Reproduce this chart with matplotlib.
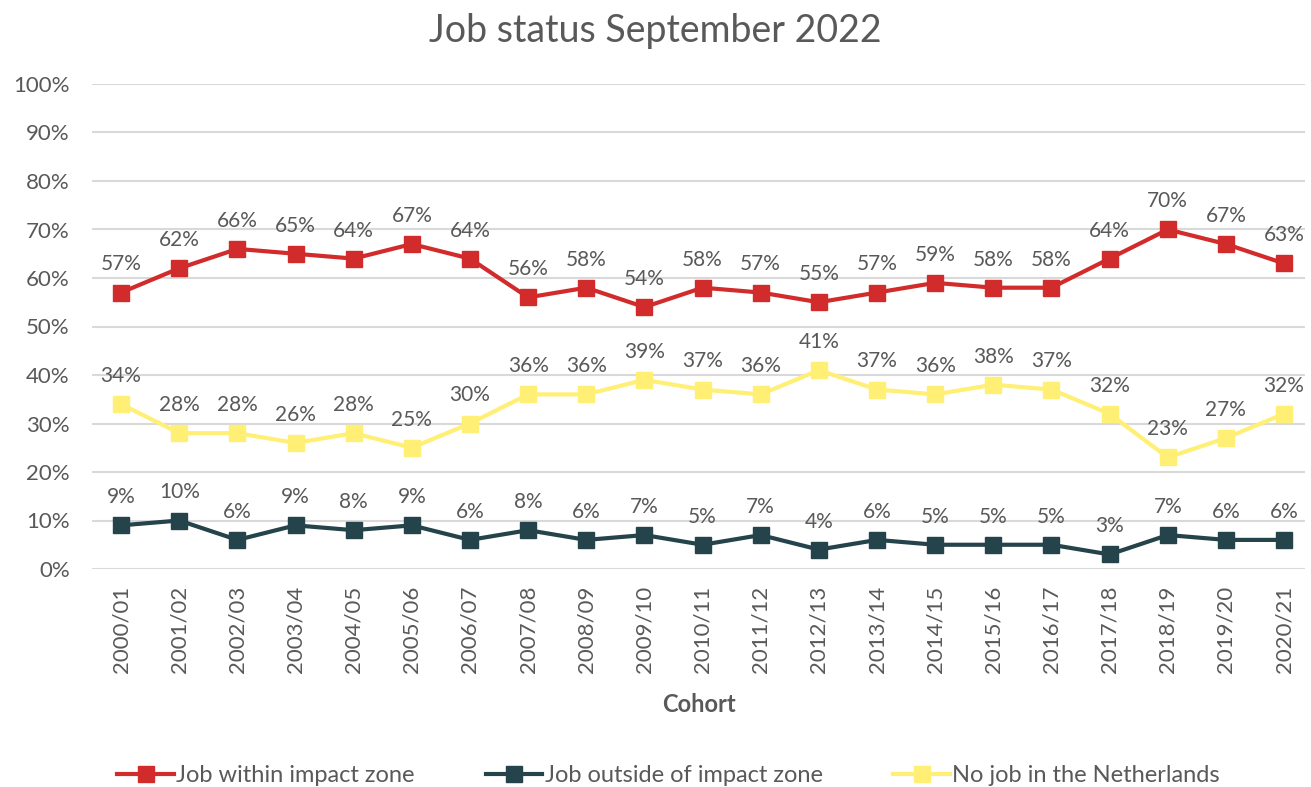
import matplotlib.pyplot as plt
from matplotlib.ticker import FuncFormatter

plt.rcParams["font.family"] = ["Lato", "DejaVu Sans"]

cohorts = ["2000/01", "2001/02", "2002/03", "2003/04", "2004/05", "2005/06", "2006/07",
           "2007/08", "2008/09", "2009/10", "2010/11", "2011/12", "2012/13", "2013/14",
           "2014/15", "2015/16", "2016/17", "2017/18", "2018/19", "2019/20", "2020/21"]

within = [57, 62, 66, 65, 64, 67, 64, 56, 58, 54, 58, 57, 55, 57, 59, 58, 58, 64, 70, 67, 63]
outside = [9, 10, 6, 9, 8, 9, 6, 8, 6, 7, 5, 7, 4, 6, 5, 5, 5, 3, 7, 6, 6]
no_job = [34, 28, 28, 26, 28, 25, 30, 36, 36, 39, 37, 36, 41, 37, 36, 38, 37, 32, 23, 27, 32]

series = [
    ("Job within impact zone", within, "#D22B2B"),
    ("Job outside of impact zone", outside, "#25434A"),
    ("No job in the Netherlands", no_job, "#FFEF75"),
]

text_color = "#595959"

fig = plt.figure(figsize=(13.11, 7.87), dpi=100)
ax = fig.add_axes([92 / 1311, 1 - 569 / 787, (1305 - 92) / 1311, (569 - 84) / 787])

x = list(range(len(cohorts)))
for name, vals, color in series:
    ax.plot(x, vals, color=color, linewidth=3, marker="s", markersize=11, label=name, zorder=3)
    for xi, v in zip(x, vals):
        ax.annotate(f"{v}%", (xi, v), xytext=(0, 13), textcoords="offset points",
                    ha="center", va="bottom", fontsize=15, color=text_color)

ax.set_ylim(0, 100)
ax.set_xlim(-0.5, 20.36)
ax.set_yticks(range(0, 101, 10))
ax.yaxis.set_major_formatter(FuncFormatter(lambda v, p: f"{v:.0f}%"))
ax.set_xticks(x)
ax.set_xticklabels(cohorts, rotation=90)
ax.tick_params(axis="both", length=0, labelsize=16, colors=text_color)
ax.tick_params(axis="y", pad=16)
ax.tick_params(axis="x", pad=12)
ax.grid(axis="y", color="#D9D9D9", linewidth=1.5, zorder=0)
for s in ax.spines.values():
    s.set_visible(False)

ax.set_xlabel("Cohort", fontsize=17, fontweight="bold", color=text_color, labelpad=14)
fig.suptitle("Job status September 2022", fontsize=27, color=text_color, y=0.984)

fig.legend(loc="lower center", bbox_to_anchor=(0.51, -0.026), ncol=3, frameon=False,
           fontsize=17, labelcolor=text_color, handlelength=2.4, handletextpad=0.1,
           columnspacing=3.0)

fig.savefig("out.png", dpi=100)
